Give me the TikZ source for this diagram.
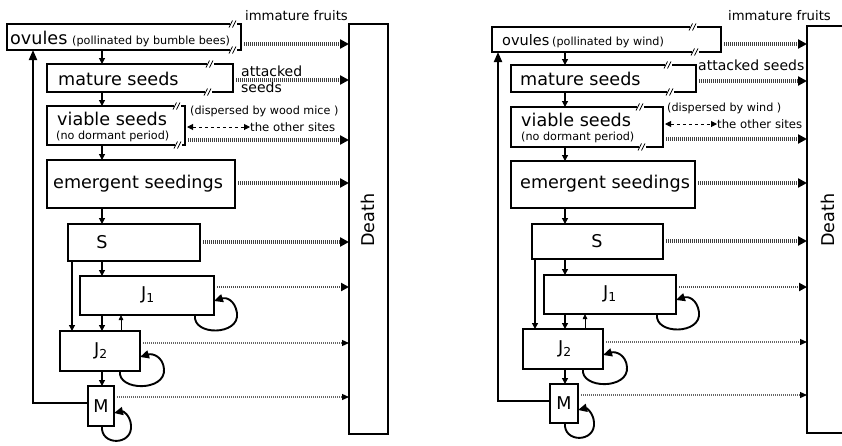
\documentclass[tikz,border=0pt]{standalone}
\usepackage{fontspec}
\setmainfont{DejaVu Sans}
\usetikzlibrary{arrows.meta}
\newcommand\brkmark[2]{%
  \fill[white] (#1-3,#2-2.5) rectangle (#1+3.5,#2+2.5);
  \draw[line width=0.8pt] (#1-4,#2+3.5) -- (#1-0.5,#2-3.5) (#1-0.5,#2+3.5) -- (#1+3,#2-3.5);}
\begin{document}
\begin{tikzpicture}[x=1pt,y=-1pt,
  box/.style={draw, line width=1.4pt, inner sep=0pt, outer sep=0pt, anchor=north west},
  big/.style={font=\fontsize{17.6}{18}\selectfont, inner sep=0pt},
  small/.style={font=\fontsize{11.2}{12}\selectfont, inner sep=0pt},
  mid/.style={font=\fontsize{13.2}{14}\selectfont, inner sep=0pt},
  att/.style={font=\fontsize{14}{15}\selectfont, inner sep=0pt},
  oth/.style={font=\fontsize{11.7}{12}\selectfont, inner sep=0pt},
  flow/.style={line width=1.2pt, -{Triangle[length=6pt,width=6pt]}},
  upflow/.style={line width=0.8pt, -{Triangle[length=5pt,width=4.5pt]}},
  fback/.style={line width=1.9pt, -{Triangle[length=10pt,width=8pt]}},
  loopst/.style={line width=1.9pt, -{Triangle[length=9pt,width=8pt]}},
  dotA/.style={draw=black!75, line width=3.2pt, dash pattern=on 1pt off 1pt, shorten <=3pt, -{Triangle[length=9pt,width=9pt,color=black]}},
  dotB/.style={draw=black!70, line width=2pt, dash pattern=on 1pt off 1pt, shorten <=3pt, -{Triangle[length=8pt,width=8pt,color=black]}},
  dotC/.style={draw=black!60, line width=1.2pt, dash pattern=on 1pt off 1pt, shorten <=3pt, -{Triangle[length=7pt,width=6pt,color=black]}},
  dashar/.style={line width=1pt, dashed, shorten <=2pt, {Triangle[length=6pt,width=6pt]}-{Triangle[length=6pt,width=6pt]}}
]
\useasboundingbox (0,0) rectangle (842,445);

% ================= LEFT =================
\node[box, minimum width=234pt, minimum height=26pt] (ov) at (7,24) {};
\node[box, minimum width=186pt, minimum height=28pt] (ms) at (47,64) {};
\node[box, minimum width=138pt, minimum height=39pt] (vs) at (47,106) {};
\node[box, minimum width=188pt, minimum height=48pt] (es) at (47,160) {};
\node[box, minimum width=132pt, minimum height=37pt] (s) at (68,224) {};
\node[box, minimum width=134pt, minimum height=39pt] (j1) at (80,276) {};
\node[box, minimum width=80pt, minimum height=40pt] (j2) at (60,331) {};
\node[box, minimum width=26pt, minimum height=40pt] (m) at (88,386) {};
\node[box, minimum width=39pt, minimum height=410pt] (death) at (349,24) {};

\brkmark{233}{24}\brkmark{233}{50}
\brkmark{210}{64}\brkmark{208}{92}
\brkmark{177}{106}\brkmark{178}{145}

\node[big, anchor=base west] (tov) at (10,44) {ovules};
\node[small, anchor=base west] (tovs) at (72,44) {(pollinated by bumble bees)};
\node[big, anchor=base west] (tms) at (58,85) {mature seeds};
\node[big, anchor=base west] (tvs) at (57,125) {viable seeds};
\node[small, anchor=base west] (tvss) at (56,139) {(no dormant period)};
\node[big, anchor=base west] (tes) at (53,188) {emergent seedings};
\node[big] (ts) at (102,242) {S};
\node[big] (tj1) at (148,295) {J\textsubscript{1}};
\node[big] (tj2) at (101,351) {J\textsubscript{2}};
\node[big] (tm) at (101,406) {M};
\node[big, rotate=90] (tdeath) at (368,220) {Death};
\node[mid, anchor=base west] (timm) at (245,20) {immature fruits};
\node[att, anchor=base west] (tatt) at (241,76) {attacked};
\node[att, anchor=base west] (tatt2) at (241,92) {seeds};
\node[small, anchor=base west] (tdisp) at (190,114) {(dispersed by wood mice )};
\node[oth, anchor=west] (toth) at (250,127) {the other sites};

\draw[flow] (ov.south -| 102,0) -- (ms.north -| 102,0);
\draw[flow] (ms.south -| 102,0) -- (vs.north -| 102,0);
\draw[flow] (vs.south -| 102,0) -- (es.north -| 102,0);
\draw[flow] (es.south -| 102,0) -- (s.north -| 102,0);
\draw[flow] (s.south -| 102,0) -- (j1.north -| 102,0);
\draw[flow] (j1.south -| 102,0) -- (j2.north -| 102,0);
\draw[flow] (j2.south -| 102,0) -- (m.north -| 102,0);
\draw[flow] (s.south -| 72,0) -- (j2.north -| 72,0);
\draw[upflow] (j2.north -| 121,0) -- (j1.south -| 121,0);
\draw[fback] (m.west |- 0,403) -| (ov.south -| 33,0);

\draw[loopst] (j1.south -| 195,0) .. controls (192,336) and (240,336) .. (237,313) .. controls (235,300) and (226,297) .. (j1.east |- 0,301);
\draw[loopst] (j2.south -| 120,0) .. controls (117,391) and (166,392) .. (164,369) .. controls (163,357) and (153,353) .. (j2.east |- 0,357);
\draw[loopst] (m.south -| 102,0) .. controls (100,446) and (133,446) .. (131,425) .. controls (130,415) and (123,411) .. (m.east |- 0,413);

\draw[dotA] (ov.east |- 0,44) -- (death.west |- 0,44);
\draw[dotA] (ms.east |- 0,80) -- (death.west |- 0,80);
\draw[dotA] (vs.east |- 0,140) -- (death.west |- 0,140);
\draw[dotA] (es.east |- 0,183) -- (death.west |- 0,183);
\draw[dotA] (s.east |- 0,242) -- (death.west |- 0,242);
\draw[dotB] (j1.east |- 0,287) -- (death.west |- 0,287);
\draw[dotC] (j2.east |- 0,343) -- (death.west |- 0,343);
\draw[dotC] (m.east |- 0,397) -- (death.west |- 0,397);
\draw[dashar] (vs.east |- 0,127) -- (toth.west);

% ================= RIGHT =================
\node[box, minimum width=229pt, minimum height=25pt] (ovR) at (492,27) {};
\node[box, minimum width=185pt, minimum height=27pt] (msR) at (511,65) {};
\node[box, minimum width=152pt, minimum height=40pt] (vsR) at (511,107) {};
\node[box, minimum width=184pt, minimum height=47pt] (esR) at (511,161) {};
\node[box, minimum width=131pt, minimum height=35pt] (sR) at (532,224) {};
\node[box, minimum width=132pt, minimum height=39pt] (j1R) at (544,275) {};
\node[box, minimum width=80pt, minimum height=40pt] (j2R) at (523,329) {};
\node[box, minimum width=28pt, minimum height=39pt] (mR) at (550,384) {};
\node[box, draw=none, minimum width=35pt, minimum height=407pt] (deathR) at (807,26) {};
\draw[line width=1.4pt] (deathR.north east) -- (deathR.north west) -- (deathR.south west) -- (deathR.south east);

\brkmark{693}{27}\brkmark{695}{52}
\brkmark{668}{65}\brkmark{670}{92}
\brkmark{640}{107}\brkmark{642}{147}

\node[big, font=\fontsize{14.5}{15}\selectfont, anchor=base west] (tovR) at (502,45) {ovules};
\node[small, anchor=base west] (tovsR) at (552,45) {(pollinated by wind)};
\node[big, anchor=base west] (tmsR) at (520,85) {mature seeds};
\node[big, anchor=base west] (tvsR) at (521,126) {viable seeds};
\node[small, anchor=base west] (tvssR) at (521,140) {(no dormant period)};
\node[big, anchor=base west] (tesR) at (520,188) {emergent seedings};
\node[big] (tsR) at (597,241) {S};
\node[big] (tj1R) at (610,294) {J\textsubscript{1}};
\node[big] (tj2R) at (565,349) {J\textsubscript{2}};
\node[big] (tmR) at (564,403) {M};
\node[big, rotate=90] (tdeathR) at (828,220) {Death};
\node[mid, anchor=base west] (timmR) at (728,20) {immature fruits};
\node[att, anchor=base west] (tattR) at (698,70) {attacked seeds};
\node[small, anchor=base west] (tdispR) at (667,111) {(dispersed by wind )};
\node[oth, anchor=west] (tothR) at (717,124) {the other sites};

\draw[flow] (ovR.south -| 565,0) -- (msR.north -| 565,0);
\draw[flow] (msR.south -| 565,0) -- (vsR.north -| 565,0);
\draw[flow] (vsR.south -| 565,0) -- (esR.north -| 565,0);
\draw[flow] (esR.south -| 565,0) -- (sR.north -| 565,0);
\draw[flow] (sR.south -| 565,0) -- (j1R.north -| 565,0);
\draw[flow] (j1R.south -| 565,0) -- (j2R.north -| 565,0);
\draw[flow] (j2R.south -| 565,0) -- (mR.north -| 565,0);
\draw[flow] (sR.south -| 535,0) -- (j2R.north -| 535,0);
\draw[upflow] (j2R.north -| 585,0) -- (j1R.south -| 585,0);
\draw[fback] (mR.west |- 0,401) -| (ovR.south -| 498,0);

\draw[loopst] (j1R.south -| 657,0) .. controls (654,335) and (702,335) .. (699,312) .. controls (697,299) and (688,296) .. (j1R.east |- 0,300);
\draw[loopst] (j2R.south -| 583,0) .. controls (580,389) and (629,390) .. (627,367) .. controls (626,355) and (616,351) .. (j2R.east |- 0,355);
\draw[loopst] (mR.south -| 565,0) .. controls (563,443) and (596,443) .. (594,422) .. controls (593,412) and (586,408) .. (mR.east |- 0,410);

\draw[dotA] (ovR.east |- 0,44) -- (deathR.west |- 0,44);
\draw[dotA] (msR.east |- 0,81) -- (deathR.west |- 0,81);
\draw[dotA] (vsR.east |- 0,139) -- (deathR.west |- 0,139);
\draw[dotA] (esR.east |- 0,183) -- (deathR.west |- 0,183);
\draw[dotA] (sR.east |- 0,241) -- (deathR.west |- 0,241);
\draw[dotB] (j1R.east |- 0,287) -- (deathR.west |- 0,287);
\draw[dotC] (j2R.east |- 0,342) -- (deathR.west |- 0,342);
\draw[dotC] (mR.east |- 0,395) -- (deathR.west |- 0,395);
\draw[dashar] (vsR.east |- 0,124) -- (tothR.west);
\end{tikzpicture}
\end{document}
